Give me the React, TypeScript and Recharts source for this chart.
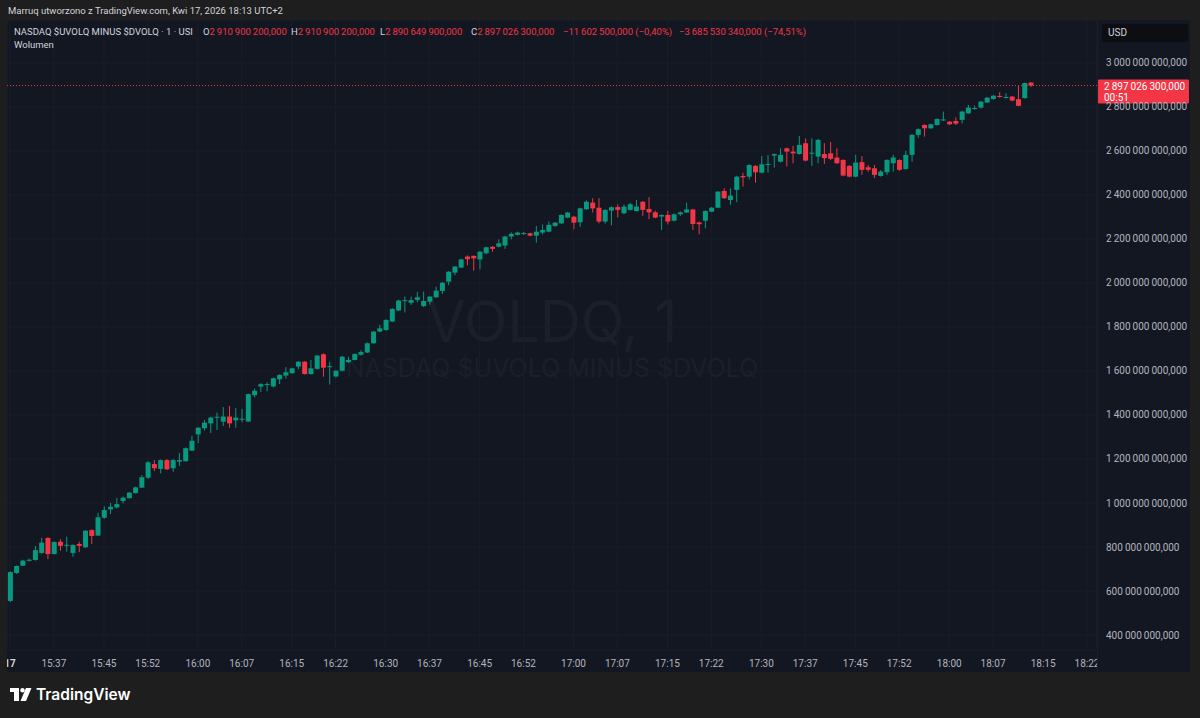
import React from "react"
import { ComposedChart, Bar, XAxis, YAxis, CartesianGrid, ReferenceLine } from "recharts"

// 1-minute candles, index 0 = 15:30 ... index 163 = 18:13, values in millions
const opens = [
  555, 682, 715, 738, 741, 773, 841, 768, 824, 807, 773, 814,
  799, 877, 852, 933, 971, 980, 1009, 1022, 1045, 1070, 1115, 1177,
  1155, 1195, 1158, 1188, 1190, 1238, 1312, 1340, 1362, 1388, 1370, 1393,
  1376, 1380, 1370, 1490, 1529, 1538, 1530, 1562, 1579, 1590, 1620, 1642,
  1586, 1610, 1676, 1618, 1575, 1601, 1640, 1650, 1674, 1684, 1726, 1779,
  1786, 1825, 1875, 1918, 1910, 1923, 1895, 1915, 1935, 1964, 2006, 2047,
  2070, 2120, 2123, 2107, 2135, 2164, 2165, 2170, 2211, 2219, 2224, 2226,
  2215, 2229, 2233, 2259, 2271, 2297, 2301, 2276, 2335, 2365, 2342, 2279,
  2329, 2345, 2317, 2332, 2327, 2369, 2336, 2321, 2302, 2309, 2283, 2312,
  2320, 2334, 2275, 2283, 2324, 2342, 2418, 2377, 2423, 2486, 2483, 2532,
  2501, 2537, 2579, 2551, 2612, 2597, 2586, 2635, 2589, 2574, 2586, 2589,
  2570, 2559, 2532, 2483, 2549, 2526, 2521, 2486, 2503, 2544, 2559, 2518,
  2582, 2673, 2718, 2703, 2718, 2740, 2733, 2736, 2741, 2771, 2792, 2797,
  2820, 2836, 2850, 2842, 2847, 2835, 2840, 2910.9,
]
const highs = [
  690, 716, 742, 748, 805, 841, 845, 826, 836, 847, 812, 824,
  877, 880, 955, 985, 1000, 1023, 1030, 1050, 1074, 1127, 1190, 1195,
  1198, 1200, 1200, 1227, 1252, 1305, 1345, 1377, 1392, 1411, 1436, 1441,
  1432, 1427, 1497, 1520, 1545, 1548, 1570, 1585, 1618, 1615, 1645, 1645,
  1650, 1673, 1680, 1642, 1604, 1668, 1665, 1680, 1695, 1729, 1782, 1810,
  1835, 1885, 1924, 1938, 1938, 1960, 1961, 1940, 1983, 2004, 2054, 2077,
  2110, 2125, 2125, 2145, 2165, 2168, 2198, 2214, 2230, 2233, 2232, 2228,
  2259, 2266, 2279, 2277, 2312, 2323, 2305, 2342, 2375, 2385, 2385, 2335,
  2348, 2357, 2357, 2365, 2377, 2372, 2390, 2328, 2312, 2328, 2316, 2325,
  2365, 2337, 2279, 2330, 2345, 2418, 2430, 2430, 2487, 2501, 2540, 2536,
  2577, 2582, 2588, 2612, 2615, 2623, 2668, 2657, 2657, 2655, 2635, 2641,
  2612, 2562, 2536, 2582, 2577, 2536, 2536, 2513, 2562, 2582, 2562, 2600,
  2676, 2702, 2721, 2724, 2748, 2779, 2736, 2752, 2782, 2809, 2806, 2827,
  2845, 2854, 2867, 2862, 2850, 2895, 2910, 2910.9,
]
const lows = [
  550, 678, 713, 734, 738, 770, 745, 765, 783, 779, 755, 777,
  796, 814, 850, 928, 950, 975, 998, 1020, 1043, 1068, 1110, 1145,
  1135, 1150, 1142, 1168, 1188, 1236, 1273, 1330, 1318, 1332, 1350, 1342,
  1342, 1367, 1368, 1480, 1505, 1508, 1525, 1541, 1565, 1588, 1608, 1584,
  1584, 1606, 1574, 1538, 1570, 1598, 1636, 1648, 1670, 1682, 1724, 1776,
  1783, 1822, 1872, 1866, 1900, 1912, 1890, 1902, 1933, 1950, 1990, 2035,
  2068, 2080, 2056, 2062, 2130, 2142, 2162, 2155, 2198, 2216, 2218, 2212,
  2183, 2220, 2230, 2255, 2268, 2294, 2244, 2255, 2332, 2320, 2271, 2270,
  2262, 2298, 2312, 2330, 2325, 2305, 2290, 2294, 2241, 2266, 2280, 2305,
  2318, 2241, 2221, 2248, 2322, 2340, 2382, 2355, 2367, 2438, 2470, 2456,
  2498, 2501, 2524, 2548, 2529, 2544, 2583, 2553, 2532, 2544, 2541, 2558,
  2541, 2485, 2480, 2480, 2491, 2505, 2477, 2483, 2491, 2506, 2510, 2515,
  2551, 2660, 2665, 2700, 2715, 2736, 2718, 2718, 2725, 2768, 2787, 2792,
  2818, 2833, 2842, 2838, 2826, 2803, 2838, 2890.6,
]
const closes = [
  686, 714, 738, 742, 786, 820, 768, 823, 805, 810, 809, 805,
  874, 850, 935, 968, 983, 995, 1024, 1047, 1071, 1117, 1185, 1158,
  1195, 1153, 1195, 1195, 1249, 1283, 1342, 1365, 1388, 1392, 1393, 1362,
  1388, 1383, 1495, 1510, 1540, 1541, 1567, 1582, 1594, 1612, 1642, 1586,
  1612, 1670, 1615, 1622, 1601, 1665, 1650, 1677, 1686, 1726, 1779, 1794,
  1832, 1882, 1920, 1922, 1922, 1935, 1918, 1938, 1965, 2001, 2051, 2074,
  2107, 2108, 2112, 2142, 2162, 2155, 2180, 2211, 2223, 2229, 2227, 2215,
  2233, 2241, 2264, 2274, 2309, 2320, 2274, 2339, 2369, 2339, 2279, 2332,
  2344, 2332, 2347, 2358, 2347, 2332, 2321, 2297, 2309, 2279, 2312, 2321,
  2334, 2268, 2267, 2327, 2342, 2415, 2385, 2397, 2483, 2480, 2536, 2503,
  2539, 2541, 2586, 2582, 2597, 2589, 2627, 2556, 2592, 2650, 2567, 2564,
  2544, 2488, 2483, 2547, 2514, 2514, 2491, 2506, 2559, 2570, 2514, 2582,
  2673, 2699, 2703, 2721, 2745, 2743, 2721, 2724, 2779, 2797, 2795, 2824,
  2842, 2851, 2845, 2845, 2829, 2805, 2908.6, 2897.0263,
]

const xTicks = [0, 7, 15, 22, 30, 37, 45, 52, 60, 67, 75, 82, 90, 97, 105, 112, 120, 127, 135, 142, 150, 157, 165, 172]
const xTickLabels = [
  "17", "15:37", "15:45", "15:52", "16:00", "16:07", "16:15", "16:22", "16:30", "16:37", "16:45", "16:52",
  "17:00", "17:07", "17:15", "17:22", "17:30", "17:37", "17:45", "17:52", "18:00", "18:07", "18:15", "18:22",
]
const yTicks = [400, 600, 800, 1000, 1200, 1400, 1600, 1800, 2000, 2200, 2400, 2600, 2800, 3000]
const lastClose = closes[closes.length - 1]

const UP = "#089981"
const DOWN = "#f23645"
const FONT = "Roboto, 'Noto Sans', sans-serif"
const WM_FONT = "Inter, 'Noto Sans', sans-serif"
const TS = "\u2009"

const data = opens.map((o, i) => ({
  i,
  o,
  h: highs[i],
  l: lows[i],
  c: closes[i],
  range: [lows[i], highs[i]],
}))

function fmt(millions: number) {
  const s = Math.round(millions * 1e6).toString()
  return s.replace(/\B(?=(\d{3})+(?!\d))/g, TS) + ",000"
}

function Candle(props: any) {
  const { x, y, width, height, payload } = props
  if (!payload || height == null || isNaN(y)) return null
  const { o, h, l, c } = payload
  const k = h === l ? 0 : height / (h - l)
  const yo = y + (h - o) * k
  const yc = y + (h - c) * k
  const col = c >= o ? UP : DOWN
  const cx = x + width / 2
  const top = Math.min(yo, yc)
  const bh = Math.max(Math.abs(yc - yo), 1)
  return (
    <g>
      <line x1={cx} x2={cx} y1={y} y2={y + height} stroke={col} strokeWidth={1} />
      <rect x={x} y={top} width={width} height={bh} fill={col} />
    </g>
  )
}

function XTick(props: any) {
  const { x, y, payload } = props
  const idx = xTicks.indexOf(payload.value)
  const first = idx === 0
  const id = `xclip-${idx}`
  return (
    <g>
      <defs>
        <clipPath id={id}>
          <rect x={7} y={y} width={1090} height={24} />
        </clipPath>
      </defs>
      <text x={x} y={y + 15} textAnchor="middle" fill={first ? "#d1d4dc" : "#b2b5be"} clipPath={`url(#${id})`}
        fontSize={10} fontWeight={first ? 700 : 400} fontFamily={FONT}>
        {xTickLabels[idx]}
      </text>
    </g>
  )
}

function YTick(props: any) {
  const { x, y, payload } = props
  return (
    <text x={x + 7} y={y} dy="0.35em" textAnchor="start" fill="#b2b5be" fontSize={10} fontFamily={FONT}>
      {fmt(payload.value)}
    </text>
  )
}

function PriceTag(props: any) {
  const vb = props.viewBox
  if (!vb) return null
  const x = vb.x + vb.width + 1
  const y = vb.y
  return (
    <g>
      <rect x={x} y={y - 6} width={91} height={24} fill={DOWN} rx={1} />
      <text x={x + 6} y={y + 1} dy="0.3em" fill="#ffffff" fontSize={10} fontFamily={FONT}>{fmt(lastClose)}</text>
      <text x={x + 6} y={y + 12} dy="0.3em" fill="#ffffff" fontSize={10} fontFamily={FONT}>00:51</text>
    </g>
  )
}

const abs = (l: number, t: number): React.CSSProperties => ({ position: "absolute", left: l, top: t, whiteSpace: "nowrap" })

export default function App() {
  const legend = { fontSize: 9.5, fontFamily: FONT, lineHeight: "12px" }
  return (
    <div style={{ position: "absolute", left: 0, top: 0, width: 1200, height: 718, background: "#1e1e1e", overflow: "hidden", fontFamily: FONT }}>
      <div style={{ position: "absolute", left: 7, top: 20, width: 1183, height: 652, background: "#131722" }} />
      <div style={{ position: "absolute", left: 1097, top: 20, width: 1, height: 652, background: "#1c202a" }} />
      {/* watermark */}
      <div style={{ position: "absolute", left: 7, width: 1090, top: 290, textAlign: "center", fontFamily: WM_FONT, fontSize: 57, color: "#1b1f2b", lineHeight: "64px" }}>VOLDQ, 1</div>
      <div style={{ position: "absolute", left: 7, width: 1090, top: 354, textAlign: "center", fontFamily: WM_FONT, fontSize: 25, color: "#1b1f2b", lineHeight: "28px" }}>NASDAQ $UVOLQ MINUS $DVOLQ</div>

      <div style={{ position: "absolute", left: 0, top: 0 }}>
        <ComposedChart width={1200} height={718} data={data} margin={{ top: 20, right: 10, bottom: 46, left: 7 }}>
          <CartesianGrid stroke="#1a1e29" strokeWidth={1} />
          <XAxis type="number" dataKey="i" domain={[-0.48, 173.6]} ticks={xTicks} tick={<XTick />}
            tickLine={false} axisLine={false} tickSize={0} height={22} allowDataOverflow interval={0} />
          <YAxis orientation="right" type="number" domain={[332, 3195]} ticks={yTicks} tick={<YTick />}
            tickLine={false} axisLine={false} tickSize={0} width={93} allowDataOverflow interval={0} />
          <Bar dataKey="range" barSize={5} shape={<Candle />} isAnimationActive={false} />
          <ReferenceLine y={lastClose} stroke={DOWN} strokeDasharray="1 2" strokeWidth={1}
            label={(p: any) => <PriceTag {...p} />} />
        </ComposedChart>
      </div>

      {/* header */}
      <div style={{ ...abs(8, 5), fontSize: 9.5, color: "#d1d4dc" }}>Marruq utworzono z TradingView.com, Kwi 17, 2026 18:13 UTC+2</div>
      <div style={{ ...abs(14, 26), ...legend, color: "#d1d4dc" }}>NASDAQ $UVOLQ MINUS $DVOLQ · 1 · USI</div>
      <div style={{ ...abs(203, 26), ...legend, color: "#d1d4dc" }}>O<span style={{ color: DOWN }}>2{TS}910{TS}900{TS}200,000</span></div>
      <div style={{ ...abs(291, 26), ...legend, color: "#d1d4dc" }}>H<span style={{ color: DOWN }}>2{TS}910{TS}900{TS}200,000</span></div>
      <div style={{ ...abs(380, 26), ...legend, color: "#d1d4dc" }}>L<span style={{ color: DOWN }}>2{TS}890{TS}649{TS}900,000</span></div>
      <div style={{ ...abs(471, 26), ...legend, color: "#d1d4dc" }}>C<span style={{ color: DOWN }}>2{TS}897{TS}026{TS}300,000</span></div>
      <div style={{ ...abs(563, 26), ...legend, color: DOWN }}>−11{TS}602{TS}500,000 (−0,40%)</div>
      <div style={{ ...abs(679, 26), ...legend, color: DOWN }}>−3{TS}685{TS}530{TS}340,000 (−74,51%)</div>
      <div style={{ ...abs(14, 39), ...legend, color: "#d1d4dc" }}>Wolumen</div>

      {/* currency box */}
      <div style={{ ...abs(1102, 24), width: 86, height: 18, background: "#0d0e12", borderRadius: 3, fontSize: 10, color: "#d1d4dc", lineHeight: "18px", paddingLeft: 6, boxSizing: "border-box" }}>USD</div>

      {/* footer logo */}
      <svg style={{ position: "absolute", left: 0, top: 680 }} width={200} height={30}>
        <rect x={10} y={8} width={9} height={4} fill="#ffffff" />
        <rect x={14} y={8} width={5} height={13} fill="#ffffff" />
        <circle cx={22.5} cy={10.2} r={2.2} fill="#ffffff" />
        <polygon points="26,8 31.5,8 26,21 20.5,21" fill="#ffffff" />
        <text x={36} y={20} fill="#ffffff" fontSize={15.5} fontWeight={600} fontFamily={WM_FONT}>TradingView</text>
      </svg>
    </div>
  )
}
